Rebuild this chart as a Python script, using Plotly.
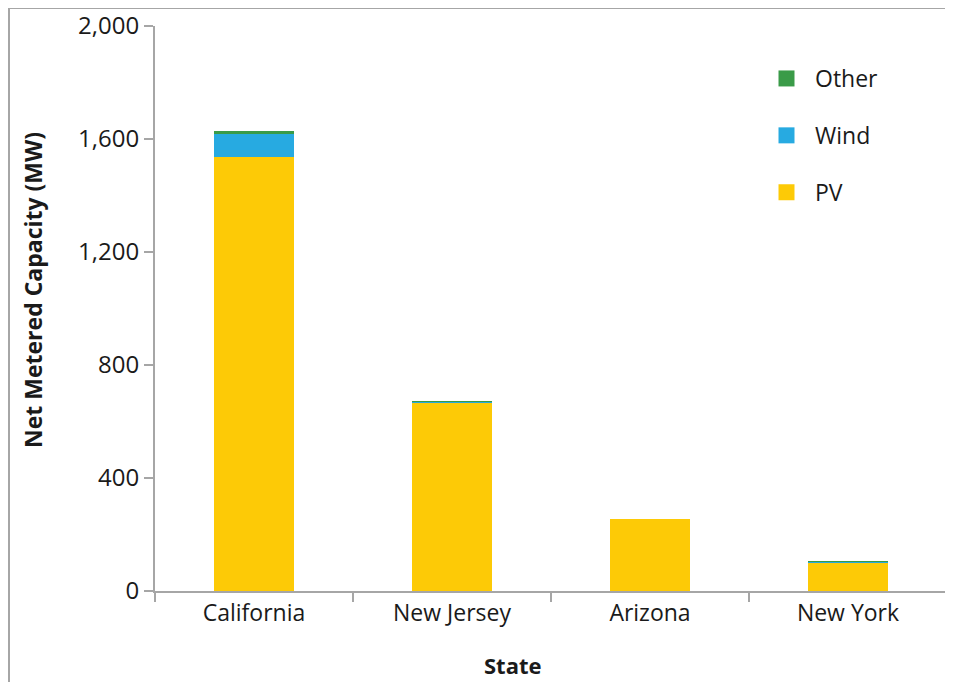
import plotly.graph_objects as go

states = ["California", "New Jersey", "Arizona", "New York"]
pv = [1537, 668, 255, 100]
wind = [81, 2, 0, 4]
other = [11, 2, 0, 1]
y_ticks = [0, 400, 800, 1200, 1600, 2000]
y_tick_labels = ["0", "400", "800", "1,200", "1,600", "2,000"]

colors = {"PV": "#FDCA06", "Wind": "#27AAE1", "Other": "#3A9B48"}
ranks = {"Other": 1, "Wind": 2, "PV": 3}

fig = go.Figure()
for name, vals in [("PV", pv), ("Wind", wind), ("Other", other)]:
    fig.add_trace(go.Bar(
        x=states, y=vals, name=name, legendgroup=name, showlegend=False,
        marker=dict(color=colors[name], line=dict(width=0)),
        width=0.4,
    ))
# legend entries (square swatches)
for name in ["PV", "Wind", "Other"]:
    fig.add_trace(go.Scatter(
        x=[None], y=[None], mode="markers", name=name, legendgroup=name,
        legendrank=ranks[name],
        marker=dict(symbol="square", size=16, color=colors[name]),
    ))

W, H = 953, 682
OFF = 8  # page body margin
# target on-screen plot area: x 155..947, y 26..591
ml = 155 - OFF
mt = 26 - OFF
mr = W - (947 - OFF)
mb = H - (591 - OFF)
pw, ph = W - ml - mr, H - mt - mb

def px_x(p):
    return (p - OFF - ml) / pw

def px_y(p):
    return (H - mb - (p - OFF)) / ph

FONT = "Open Sans, Lato, sans-serif"

fig.update_layout(
    width=W, height=H,
    margin=dict(l=ml, r=mr, t=mt, b=mb, pad=0, autoexpand=False),
    barmode="stack",
    plot_bgcolor="white", paper_bgcolor="white",
    font=dict(family=FONT, color="#1a1a1a", size=23),
    legend=dict(
        traceorder="grouped",
        x=px_x(758), y=px_y(57), xanchor="left", yanchor="top",
        font=dict(size=23), tracegroupgap=24, itemwidth=47,
        bgcolor="rgba(0,0,0,0)",
    ),
    xaxis=dict(
        automargin=False,
        showline=True, linecolor="#a6a6a6", linewidth=2,
        ticks="outside", tickson="boundaries", ticklen=9, tickcolor="#a6a6a6", tickwidth=2,
        tickfont=dict(size=23),
        showgrid=False,
    ),
    yaxis=dict(
        automargin=False,
        range=[0, 2000], tickvals=y_ticks, ticktext=y_tick_labels,
        showline=True, linecolor="#a6a6a6", linewidth=2,
        ticks="outside", ticklen=9, tickcolor="#a6a6a6", tickwidth=2,
        tickfont=dict(size=24),
        showgrid=False, zeroline=False,
    ),
    annotations=[
        dict(text="<b>Net Metered Capacity (MW)</b>", textangle=-90,
             xref="paper", yref="paper", x=px_x(33), y=px_y(290),
             xanchor="center", yanchor="middle", showarrow=False,
             font=dict(size=23)),
        dict(text="<b>State</b>",
             xref="paper", yref="paper", x=px_x(513), y=px_y(665),
             xanchor="center", yanchor="middle", showarrow=False,
             font=dict(size=22)),
    ],
    shapes=[dict(
        type="rect", xref="paper", yref="paper",
        x0=px_x(9), x1=px_x(W + 40), y0=px_y(H + 40), y1=px_y(8),
        line=dict(color="#a6a6a6", width=2), fillcolor="rgba(0,0,0,0)", layer="below",
    )],
)

fig.write_html("out.html")
